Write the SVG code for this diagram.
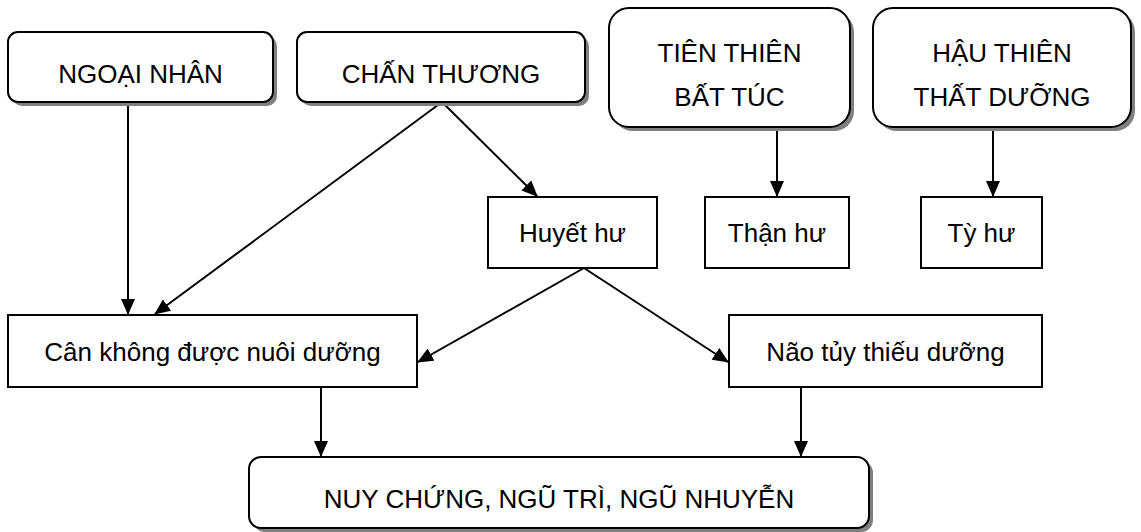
<svg xmlns="http://www.w3.org/2000/svg" width="1141" height="532" viewBox="0 0 1141 532">
<style>
.box{fill:#fff;stroke:#000;stroke-width:2}
.sh{fill:#808080;stroke:none}
.t{font-family:"Liberation Sans",Arial,sans-serif;font-size:26px;fill:#000;text-anchor:middle}
.c{fill:none;stroke:#000;stroke-width:2}
</style>
<defs>
<marker id="ah" markerUnits="userSpaceOnUse" markerWidth="16" markerHeight="14" viewBox="0 0 16 14" refX="15" refY="7" orient="auto">
<path d="M0,0 L16,7 L0,14 z" fill="#000"/>
</marker>
</defs>
<rect width="1141" height="532" fill="#fff"/>
<g id="connectors">
<line class="c" x1="128" y1="102" x2="128" y2="314" marker-end="url(#ah)"/>
<line class="c" x1="442" y1="102" x2="155" y2="314" marker-end="url(#ah)"/>
<line class="c" x1="442" y1="102" x2="537" y2="196" marker-end="url(#ah)"/>
<line class="c" x1="584" y1="268" x2="418" y2="362" marker-end="url(#ah)"/>
<line class="c" x1="584" y1="268" x2="728" y2="362" marker-end="url(#ah)"/>
<line class="c" x1="777" y1="127" x2="777" y2="196" marker-end="url(#ah)"/>
<line class="c" x1="993" y1="127" x2="993" y2="196" marker-end="url(#ah)"/>
<line class="c" x1="321" y1="387" x2="321" y2="456" marker-end="url(#ah)"/>
<line class="c" x1="801" y1="387" x2="801" y2="456" marker-end="url(#ah)"/>
</g>
<g id="ngoai-nhan">
<rect class="sh" x="12" y="36" width="265" height="70" rx="10"/>
<rect class="box" x="8" y="32" width="265" height="70" rx="10"/>
<text class="t" x="140.5" y="83">NGOẠI NHÂN</text>
</g>
<g id="chan-thuong">
<rect class="sh" x="301" y="36" width="288" height="70" rx="10"/>
<rect class="box" x="297" y="32" width="288" height="70" rx="10"/>
<text class="t" x="441" y="83">CHẤN THƯƠNG</text>
</g>
<g id="tien-thien">
<rect class="sh" x="613" y="12" width="241" height="119" rx="20"/>
<rect class="box" x="609" y="8" width="241" height="119" rx="20"/>
<text class="t" x="729.5" y="62">TIÊN THIÊN</text>
<text class="t" x="729.5" y="106">BẤT TÚC</text>
</g>
<g id="hau-thien">
<rect class="sh" x="877" y="12" width="258" height="119" rx="20"/>
<rect class="box" x="873" y="8" width="258" height="119" rx="20"/>
<text class="t" x="1002" y="62">HẬU THIÊN</text>
<text class="t" x="1002" y="106">THẤT DƯỠNG</text>
</g>
<g id="huyet-hu">
<rect class="box" x="488" y="197" width="169" height="71"/>
<text class="t" x="572.5" y="242">Huyết hư</text>
</g>
<g id="than-hu">
<rect class="box" x="705" y="197" width="144" height="71"/>
<text class="t" x="777" y="242">Thận hư</text>
</g>
<g id="ty-hu">
<rect class="box" x="921" y="197" width="121" height="71"/>
<text class="t" x="981.5" y="242">Tỳ hư</text>
</g>
<g id="can-khong">
<rect class="box" x="8" y="315" width="409" height="72"/>
<text class="t" x="212.5" y="361">Cân không được nuôi dưỡng</text>
</g>
<g id="nao-tuy">
<rect class="box" x="729" y="315" width="313" height="72"/>
<text class="t" x="885.5" y="361">Não tủy thiếu dưỡng</text>
</g>
<g id="nuy-chung">
<rect class="sh" x="253" y="461" width="620" height="71" rx="12"/>
<rect class="box" x="249" y="457" width="620" height="71" rx="12"/>
<text class="t" x="559" y="508">NUY CHỨNG, NGŨ TRÌ, NGŨ NHUYỄN</text>
</g>
</svg>
